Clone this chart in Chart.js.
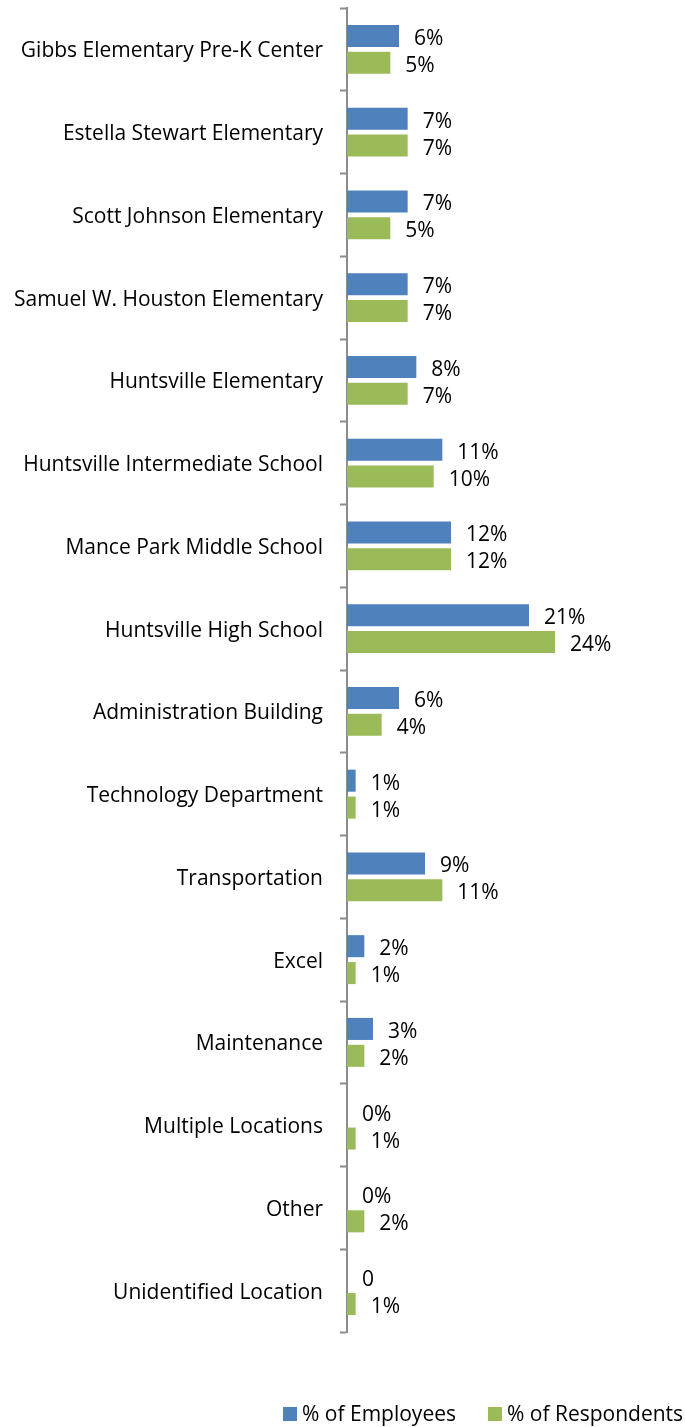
<!DOCTYPE html>
<html>
<head>
<meta charset="utf-8">
<script src="https://cdn.jsdelivr.net/npm/chart.js@4.4.1/dist/chart.umd.min.js"></script>
<style>
  html, body { margin: 0; padding: 0; background: #fff; }
  #wrap { position: relative; width: 685px; height: 1427px; }
</style>
</head>
<body>
<div id="wrap"><canvas id="locChart"></canvas></div>
<script>
// ---- data ----
const locations = [
    'Gibbs Elementary Pre-K Center',
    'Estella Stewart Elementary',
    'Scott Johnson Elementary',
    'Samuel W. Houston Elementary',
    'Huntsville Elementary',
    'Huntsville Intermediate School',
    'Mance Park Middle School',
    'Huntsville High School',
    'Administration Building',
    'Technology Department',
    'Transportation',
    'Excel',
    'Maintenance',
    'Multiple Locations',
    'Other',
    'Unidentified Location'
];
const seriesNames = ['% of Employees', '% of Respondents'];
const employees = [6, 7, 7, 7, 8, 11, 12, 21, 6, 1, 9, 2, 3, 0, 0, 0];
const respondents = [5, 7, 5, 7, 7, 10, 12, 24, 4, 1, 11, 1, 2, 1, 2, 1];
const employeeLabels = ['6%', '7%', '7%', '7%', '8%', '11%', '12%', '21%', '6%', '1%', '9%', '2%', '3%', '0%', '0%', '0'];
const respondentLabels = ['5%', '7%', '5%', '7%', '7%', '10%', '12%', '24%', '4%', '1%', '11%', '1%', '2%', '1%', '2%', '1%'];

const FONT = '"Open Sans", "Noto Sans", sans-serif';
const BLUE = '#4F81BD';
const GREEN = '#9BBB59';

// value labels next to each bar
const barLabels = {
    id: 'barLabels',
    afterDatasetsDraw(chart) {
        const { ctx } = chart;
        const texts = [employeeLabels, respondentLabels];
        ctx.save();
        ctx.font = '21px ' + FONT;
        ctx.fillStyle = '#000';
        ctx.textAlign = 'left';
        ctx.textBaseline = 'middle';
        chart.data.datasets.forEach((ds, di) => {
            chart.getDatasetMeta(di).data.forEach((bar, i) => {
                ctx.fillText(texts[di][i], bar.x + 15, bar.y + 3);
            });
        });
        ctx.restore();
    }
};

// legend row at the bottom
const legendRow = {
    id: 'legendRow',
    afterDraw(chart) {
        const { ctx } = chart;
        ctx.save();
        ctx.font = '21px ' + FONT;
        ctx.textBaseline = 'middle';
        let x = 283;
        const y = 1414;
        chart.data.datasets.forEach((ds) => {
            ctx.fillStyle = ds.backgroundColor;
            ctx.fillRect(x, y - 7, 14, 14);
            ctx.fillStyle = '#000';
            ctx.fillText(ds.label, x + 19, y + 1);
            x += 19 + ctx.measureText(ds.label).width + 32;
        });
        ctx.restore();
    }
};

const ctx = document.getElementById('locChart');
new Chart(ctx, {
    type: 'bar',
    data: {
        labels: locations,
        datasets: [
            {
                label: seriesNames[0],
                data: employees,
                backgroundColor: BLUE,
                categoryPercentage: 0.65,
                barPercentage: 0.82
            },
            {
                label: seriesNames[1],
                data: respondents,
                backgroundColor: GREEN,
                categoryPercentage: 0.65,
                barPercentage: 0.82
            }
        ]
    },
    options: {
        indexAxis: 'y',
        responsive: true,
        maintainAspectRatio: false,
        animation: false,
        layout: {
            padding: { top: 8, bottom: 95, right: 78, left: 0 }
        },
        plugins: {
            legend: { display: false },
            tooltip: { enabled: false }
        },
        scales: {
            x: {
                display: false,
                min: 0,
                max: 30
            },
            y: {
                afterFit(scale) {
                    scale.width = 347;
                    scale.paddingTop = 0;
                    scale.paddingBottom = 0;
                },
                border: { display: true, color: '#8C8C8C', width: 2 },
                grid: {
                    display: true,
                    drawOnChartArea: false,
                    drawTicks: true,
                    tickLength: 7,
                    tickWidth: 2,
                    tickColor: '#8C8C8C',
                    offset: true
                },
                ticks: {
                    color: '#000',
                    font: { family: FONT, size: 21 },
                    padding: 17,
                    labelOffset: 2
                }
            }
        }
    },
    plugins: [barLabels, legendRow]
});
</script>
</body>
</html>
